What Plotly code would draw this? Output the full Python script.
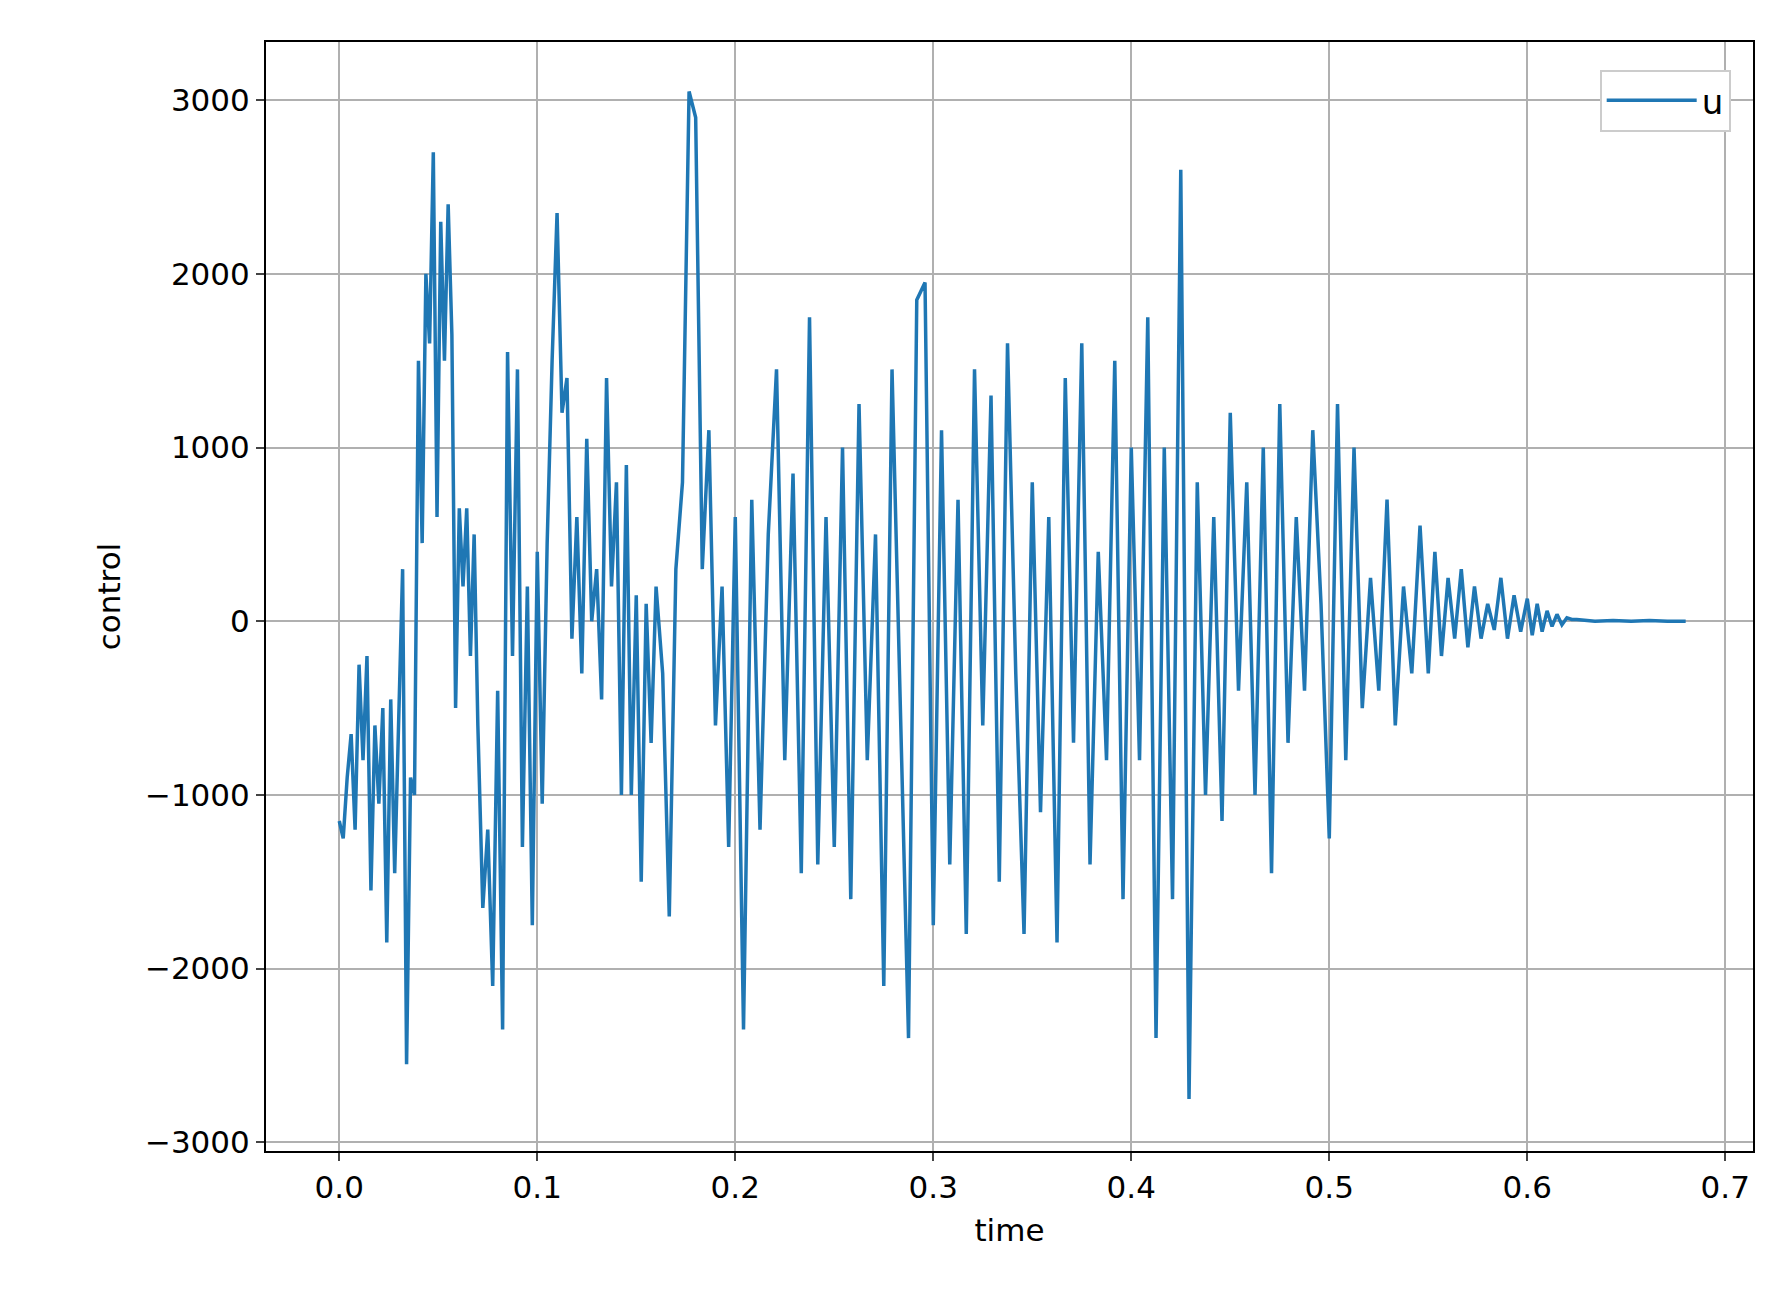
import numpy as np
import plotly.graph_objects as go

# segments: (t_start, t_end, values)
seg_bounds = [(0.0, 0.04), (0.04, 0.07), (0.07, 0.1), (0.1, 0.13), (0.13, 0.16), (0.16, 0.2),
              (0.2, 0.25), (0.25, 0.3), (0.3, 0.35), (0.35, 0.4), (0.4, 0.45), (0.45, 0.5),
              (0.5, 0.55), (0.55, 0.6), (0.6, 0.625), (0.625, 0.68)]
seg_values = [
    [-1150, -1250, -900, -650, -1200, -250, -800, -200, -1550, -600, -1050, -500, -1850, -450, -1450, -600, 300, -2550, -900, -1000],
    [1500, 450, 2000, 1600, 2700, 600, 2300, 1500, 2400, 1650, -500, 650, 200, 650, -200, 500],
    [-600, -1650, -1200, -2100, -400, -2350, 1550, -200, 1450, -1300, 200, -1750],
    [400, -1050, 450, 1500, 2350, 1200, 1400, -100, 600, -300, 1050, 0],
    [300, -450, 1400, 200, 800, -1000, 900, -1000, 150, -1500, 100, -700],
    [200, -300, -1700, 300, 800, 3050, 2900, 300, 1100, -600, 200, -1300],
    [600, -2350, 700, -1200, 500, 1450, -800, 850, -1450, 1750, -1400, 600],
    [-1300, 1000, -1600, 1250, -800, 500, -2100, 1450, -500, -2400, 1850, 1950],
    [-1750, 1100, -1400, 700, -1800, 1450, -600, 1300, -1500, 1600, -300, -1800],
    [800, -1100, 600, -1850, 1400, -700, 1600, -1400, 400, -800, 1500, -1600],
    [1000, -800, 1750, -2400, 1000, -1600, 2600, -2750, 800, -1000, 600, -1150],
    [1200, -400, 800, -1000, 1000, -1450, 1250, -700, 600, -400, 1100, 100],
    [-1250, 1250, -800, 1000, -500, 250, -400, 700, -600, 200, -300, 550],
    [-300, 400, -200, 250, -100, 300, -150, 200, -100, 100, -50, 250, -100, 150, -60],
    [130, -80, 100, -60, 60, -30, 40, -20, 20, 10],
    [10, 0, 5, 0, 5, 0, 0],
]

t, u = [], []
for (a, b), vals in zip(seg_bounds, seg_values):
    ts = np.linspace(a, b, len(vals), endpoint=(b == 0.68))
    t.extend(ts.tolist()); u.extend(vals)

fig = go.Figure(go.Scatter(x=t, y=u, mode="lines", name="u",
                           line=dict(color="#1f77b4", width=3.5)))
font = dict(family="DejaVu Sans", size=31, color="black")
axis = dict(showgrid=True, gridcolor="#b0b0b0", gridwidth=2, showline=True, linecolor="black",
            linewidth=2, mirror=True, ticks="outside", ticklen=8, tickwidth=2, zeroline=False,
            tickfont=font, title_font=font)
fig.update_layout(
    width=1786, height=1299, plot_bgcolor="white", paper_bgcolor="white",
    margin=dict(l=258, r=41, t=34, b=156), showlegend=True,
    xaxis=dict(axis, range=[-0.037, 0.714], dtick=0.1, tickformat=".1f", title_text="time"),
    yaxis=dict(axis, range=[-3050, 3335], dtick=1000, title_text="control"),
    legend=dict(x=0.985, y=0.975, xanchor="right", yanchor="top", font=dict(font, size=34),
                bordercolor="#cccccc", borderwidth=2, bgcolor="white", itemwidth=90),
)
fig.write_html("out.html")
